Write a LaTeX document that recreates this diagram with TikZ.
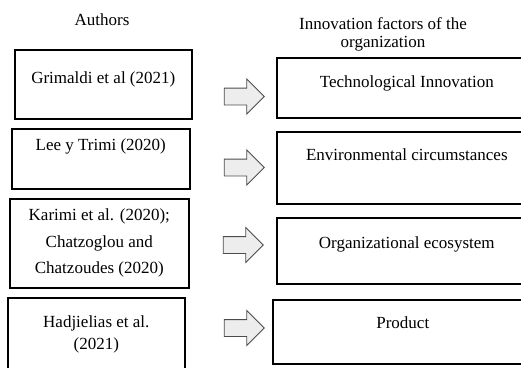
\documentclass[tikz,border=0pt]{standalone}
\usepackage{fontspec}
\setmainfont{Liberation Serif}
\usetikzlibrary{positioning,shapes.arrows}

\tikzset{
  every node/.style={font=\fontsize{17}{20}\selectfont},
  srcbox/.style={draw,line width=1.6pt,inner sep=0pt,align=center,minimum width=177pt,anchor=north west},
  factorbox/.style={draw,line width=1.6pt,inner sep=0pt,minimum width=260pt,anchor=north west},
  blockarrow/.style={single arrow,draw=black!70,fill=black!7,line width=0.8pt,inner xsep=0pt,inner ysep=8pt,
    minimum width=34pt,minimum height=40pt,single arrow head extend=9pt}
}

\begin{document}
\begin{tikzpicture}[x=1pt,y=-1pt]
\useasboundingbox (0,0) rectangle (521,367);
% headings
\node (authors) at (102,20) {Authors};
\node[align=center,font=\fontsize{17}{18}\selectfont] (factors) at (383,34) {Innovation factors of the\\organization};
% authors column
\node[srcbox,text height=34pt,text depth=35pt] (grimaldi) at (14,49) {Grimaldi et al (2021)};
\node[srcbox,minimum width=178pt,text height=22pt,text depth=38pt] (lee) at (11,128) {Lee y Trimi (2020)};
\node[srcbox,minimum width=179pt,minimum height=89pt,font=\fontsize{17}{26.5}\selectfont] (karimi) at (9,198)
  {Karimi et al. (2020);\\Chatzoglou and\\Chatzoudes (2020)};
\node[srcbox,minimum height=74pt,font=\fontsize{17}{22}\selectfont] (hadjielias) at (7,297) {Hadjielias et al.\\(2021)};
% factors column
\node[factorbox,text height=30pt,text depth=30pt] (tech) at (276,57) {Technological Innovation};
\node[factorbox,text height=29pt,text depth=43pt] (env) at (276,131) {Environmental circumstances};
\node[factorbox,text height=31pt,text depth=35pt] (eco) at (276,217) {Organizational ecosystem};
\node[factorbox,text height=29pt,text depth=35pt] (product) at (272,299) {Product};
% block arrows
\node[blockarrow] (arr1) at (240,96.5) {};
\node[blockarrow] (arr2) at (240,167.5) {};
\node[blockarrow] (arr3) at (239,245) {};
\node[blockarrow] (arr4) at (240,328) {};
\end{tikzpicture}
\end{document}
